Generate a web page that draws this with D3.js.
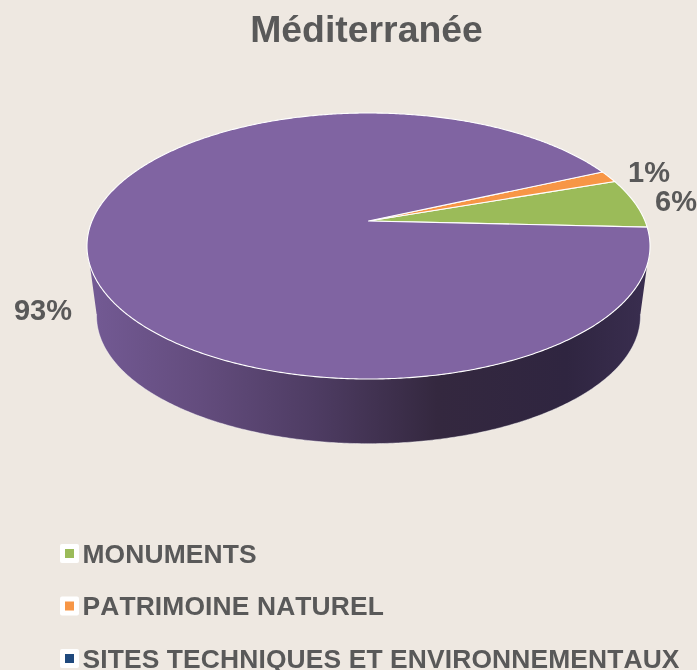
<!DOCTYPE html>
<html><head><meta charset="utf-8">
<script src="https://cdnjs.cloudflare.com/ajax/libs/d3/7.8.5/d3.min.js"></script>
<style>html,body{margin:0;padding:0;background:#eee8e1;overflow:hidden}svg{display:block;filter:blur(0.4px)}text{font-family:"Liberation Sans",Arial,sans-serif;font-weight:700;fill:#595959;font-kerning:none}</style>
</head><body><svg id="c" width="697" height="670"></svg>
<script>
const categories = ["MONUMENTS","PATRIMOINE NATUREL","SITES TECHNIQUES ET ENVIRONNEMENTAUX"];
const values = [6.05,1.45,92.5];
const pctLabels = ["6%","1%","93%"];
const sliceColors = ["#9bbb59","#f79646","#8064a2"];
const legendColors = ["#9bbb59","#f79646","#1f497d"];
const title = "Méditerranée";

const svg = d3.select("#c");
const W = 697, H = 670;
svg.append("rect").attr("width",W).attr("height",H).attr("fill","#eee8e1");
svg.append("text").attr("x",366.5).attr("y",42).attr("text-anchor","middle").attr("font-size",37.4).text(title);

// Perspective projection of the pie disc
const apex = {x:368.5,y:221}, Rx=276.5, Ry=128.3, k=0.188;
const proj = (a,sx=1,sy=1,oy=0)=>{ // a: d3 angle clockwise from north
  const c=Math.sin(a), s=-Math.cos(a), w=1-k*s;
  return [apex.x+sx*Rx*c/w, apex.y+oy+sy*Ry*s/w];
};
const deg=Math.PI/180;
const pie=d3.pie().sort(null).startAngle(92.7*deg).endAngle((92.7-360)*deg);
const arcs=pie(values);
const line=d3.line();
const samples=(a0,a1)=>{const n=Math.max(2,Math.ceil(Math.abs(a1-a0)/(0.5*deg)));return d3.range(n+1).map(i=>a0+(a1-a0)*i/n);};

// gradient for side wall
const defs=svg.append("defs");
const grad=defs.append("linearGradient").attr("id","side").attr("gradientUnits","userSpaceOnUse").attr("x1",90).attr("x2",650).attr("y1",0).attr("y2",0);
[[0,"#735a94"],[0.2,"#634c7d"],[0.4,"#4e3c63"],[0.62,"#34283f"],[0.85,"#2f2540"],[1,"#3a2e50"]].forEach(d=>grad.append("stop").attr("offset",d[0]).attr("stop-color",d[1]));

// side wall: lower half of top rim + lower half of bottom rim
const sideTop=samples(100*deg,260*deg).map(a=>proj(a));
const sideBot=samples(260*deg,100*deg).map(a=>proj(a,0.966,0.96,71));
svg.append("path").attr("d",line(sideTop.concat(sideBot))+"Z").attr("fill","url(#side)");
svg.append("path").attr("d",line(sideBot)).attr("fill","none").attr("stroke","#fff").attr("stroke-opacity",0.45).attr("stroke-width",1);

// top slices
arcs.forEach((d,i)=>{
  const pts=[[apex.x,apex.y]].concat(samples(d.startAngle,d.endAngle).map(a=>proj(a)));
  svg.append("path").attr("d",line(pts)+"Z").attr("fill",sliceColors[i]).attr("stroke","#fff").attr("stroke-width",1.1).attr("stroke-linejoin","round");
});

// data labels
const labelPos=[[676,211],[649,182],[43,320]];
pctLabels.forEach((t,i)=>svg.append("text").attr("x",labelPos[i][0]).attr("y",labelPos[i][1]).attr("text-anchor","middle").attr("font-size",29).text(t));

// legend
const ly=d3.scalePoint().domain(categories).range([553.5,658.5]);
categories.forEach((c,i)=>{
  const y=ly(c);
  svg.append("rect").attr("x",60).attr("y",y-9.5).attr("width",19).attr("height",19).attr("rx",2).attr("fill","#fff");
  svg.append("rect").attr("x",65).attr("y",y-4.5).attr("width",9).attr("height",9).attr("fill",legendColors[i]);
  svg.append("text").attr("x",82.5).attr("y",y+9).attr("font-size",26.4).attr("letter-spacing",0.13).text(c);
});
</script></body></html>
